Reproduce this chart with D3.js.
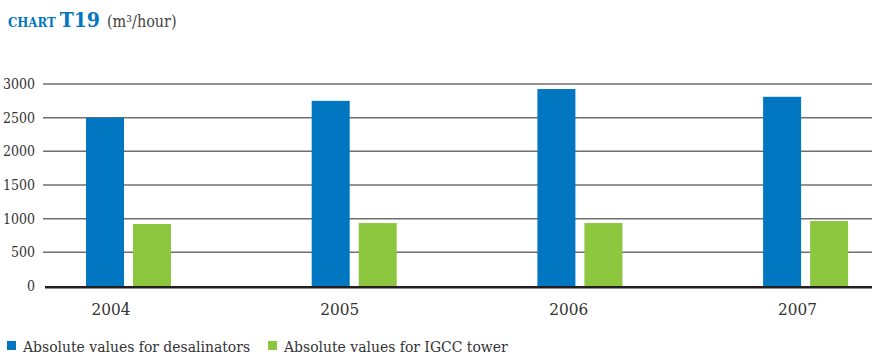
<!DOCTYPE html>
<html>
<head>
<meta charset="utf-8">
<script src="https://cdn.jsdelivr.net/npm/d3@7"></script>
<style>
  body { margin: 0; background: #fff; }
</style>
</head>
<body>
<div id="chart"></div>
<script>
const years = ['2004', '2005', '2006', '2007'];
const seriesNames = ['Absolute values for desalinators', 'Absolute values for IGCC tower'];
const desalinators = [2500, 2750, 2925, 2810];
const igccTower = [921, 935, 935, 965];
const yTicks = [0, 500, 1000, 1500, 2000, 2500, 3000];

const width = 872,
    height = 360,
    font = "'DejaVu Serif Condensed', 'DejaVu Serif', serif",
    colors = ['#0077c0', '#8dc63f'];

const svg = d3.select('#chart')
    .append('svg')
    .attr('width', width)
    .attr('height', height)
    .style('font-family', font)
    .style('font-stretch', 'condensed');

// title
const title = svg.append('text')
    .attr('x', 8)
    .attr('y', 27);
title.append('tspan')
    .attr('fill', '#0077c0')
    .attr('font-weight', 'bold')
    .attr('font-size', 13)
    .text('CHART');
title.append('tspan')
    .attr('fill', '#0077c0')
    .attr('font-weight', 'bold')
    .attr('font-size', 21)
    .attr('dx', 4)
    .text('T19');
title.append('tspan')
    .attr('fill', '#444')
    .attr('font-size', 16)
    .attr('dx', 7)
    .text('(m³/hour)');

const y = d3.scaleLinear()
    .domain([0, 3000])
    .range([286, 84]);

// groups of bars
const x0 = d3.scaleBand()
    .domain(years)
    .range([86, 86 + 4 * 225.7])
    .padding(0);

const x1 = d3.scaleBand()
    .domain(seriesNames)
    .range([0, 85])
    .paddingInner(9 / 47);

const xLabel = d3.scalePoint()
    .domain(years)
    .range([111, 797.5]);

// gridlines
svg.append('g')
    .selectAll('line')
    .data(yTicks.slice(1))
    .join('line')
    .attr('x1', 43)
    .attr('x2', width)
    .attr('y1', d => y(d))
    .attr('y2', d => y(d))
    .attr('stroke', '#6f6f6f')
    .attr('stroke-width', 1.5);

// y labels
svg.append('g')
    .selectAll('text')
    .data(yTicks)
    .join('text')
    .attr('x', 35)
    .attr('y', d => y(d) + 5)
    .attr('text-anchor', 'end')
    .attr('font-size', 14)
    .attr('fill', '#333')
    .text(d => d);

const data = years.map((yr, i) => ({
    year: yr,
    values: [desalinators[i], igccTower[i]]
}));

svg.append('g')
    .selectAll('g')
    .data(data)
    .join('g')
    .attr('transform', d => `translate(${x0(d.year)},0)`)
    .selectAll('rect')
    .data(d => d.values.map((v, j) => ({ name: seriesNames[j], value: v, color: colors[j] })))
    .join('rect')
    .attr('x', d => x1(d.name))
    .attr('width', x1.bandwidth())
    .attr('y', d => y(d.value))
    .attr('height', d => y(0) - y(d.value))
    .attr('fill', d => d.color);

// x axis line
svg.append('line')
    .attr('x1', 45)
    .attr('x2', width)
    .attr('y1', y(0) + 1.2)
    .attr('y2', y(0) + 1.2)
    .attr('stroke', '#231f20')
    .attr('stroke-width', 2.6);

// year labels
svg.append('g')
    .selectAll('text')
    .data(years)
    .join('text')
    .attr('x', d => xLabel(d))
    .attr('y', 315)
    .attr('text-anchor', 'middle')
    .attr('font-size', 17)
    .attr('fill', '#333')
    .text(d => d);

// legend
const legendX = [7, 268];
const legend = svg.append('g')
    .selectAll('g')
    .data(seriesNames)
    .join('g')
    .attr('transform', (d, i) => `translate(${legendX[i]},341)`);
legend.append('rect')
    .attr('width', 9)
    .attr('height', 9)
    .attr('fill', (d, i) => colors[i]);
legend.append('text')
    .attr('x', 16)
    .attr('y', 11)
    .attr('font-size', 15.5)
    .attr('fill', '#333')
    .text(d => d);
</script>
</body>
</html>
